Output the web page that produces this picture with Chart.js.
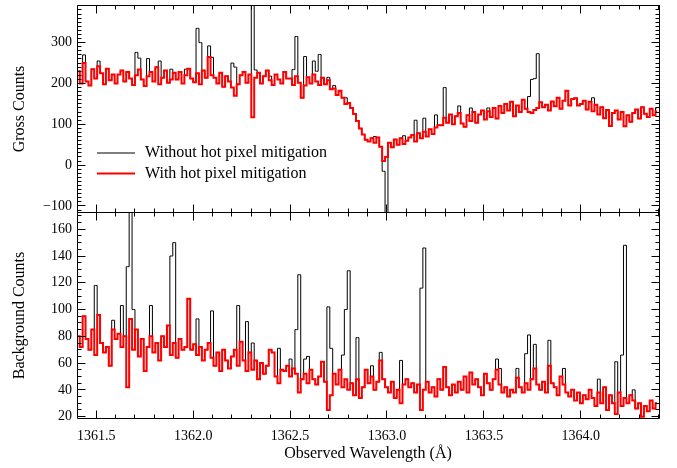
<!DOCTYPE html>
<html>
<head>
<meta charset="utf-8">
<script src="https://cdn.jsdelivr.net/npm/chart.js@4.4.1/dist/chart.umd.min.js"></script>
<style>
  html, body { margin: 0; padding: 0; background: #fff; }
  #wrap { position: relative; width: 677px; height: 468px; }
  #wrap .panel { position: absolute; left: 0; width: 677px; }
</style>
</head>
<body>
<div id="wrap">
  <div class="panel" style="top:205px;height:263px"><canvas id="bgChart"></canvas></div>
  <div class="panel" style="top:0;height:220px"><canvas id="grossChart"></canvas></div>
</div>
<script>
// wavelength grid (bin centres, Angstrom)
const wlStart = 1361.4075;
const wlStep = 0.015;
const nBins = 200;

// tick labels
const xTicks = [1361.5, 1362.0, 1362.5, 1363.0, 1363.5, 1364.0];
const grossTicks = [-100, 0, 100, 200, 300];
const bgTicks = [20, 40, 60, 80, 100, 120, 140, 160];

// gross counts, with hot pixel mitigation (red)
const grossClean = [
  230, 200, 250, 205, 195, 235, 212, 242, 225, 198, 236, 208, 222, 200,
  222, 232, 205, 228, 212, 196, 220, 234, 210, 194, 218, 228, 205, 240, 198, 214, 232, 202, 210, 226,
  210, 228, 200, 220, 236, 212, 203, 225, 198, 232, 214, 265, 220,
  214, 200, 226, 192, 218, 205, 190, 170, 198, 220, 228, 202, 222,
  117,
  214, 226, 200, 218, 232, 208, 196, 222, 210, 200, 228, 212,
  212, 196, 218, 202, 165, 195, 215, 200, 222, 205, 196, 214,
  198, 208, 186, 188, 172, 182, 165, 150,
  152, 140, 125, 108, 90, 75, 62, 58, 66, 55, 68, 45, 10, 20,
  55, 44, 63, 50, 66, 52, 60, 68, 74, 58, 78, 66, 82, 70, 88, 76, 92, 98,
  98, 116, 104, 124, 100, 120, 128,
  102, 94, 122, 108, 130, 104, 124, 134, 112, 132, 118, 140, 114, 145,
  128, 150, 134, 155, 120, 146, 130, 160, 138, 130, 128, 135, 140, 154, 142,
  148, 134, 156, 144, 165, 138, 158, 182, 146, 162,
  164, 146, 150, 158, 136, 155, 132, 148, 124, 142,
  115, 135, 96, 128, 134, 112, 130, 95, 122, 106,
  128, 136, 114, 142, 126, 118, 138, 122, 132
];
// bins where the unmitigated gross spectrum differs: [bin, counts]
const grossHot = [
  [2, 270], [7, 255], [20, 276], [21, 262], [24, 261], [28, 255], [32, 235], [37, 235],
  [41, 335], [42, 300], [45, 292], [46, 264], [53, 250], [54, 240], [60, 395], [61, 233],
  [66, 218], [74, 234], [75, 315], [78, 266], [81, 255], [82, 230], [83, 271], [86, 215],
  [88, 195], [92, 165], [102, 70], [105, -15], [106, -130], [112, 72], [116, 110], [119, 115],
  [123, 123], [126, 190], [131, 145], [135, 140], [141, 140], [155, 168], [156, 210], [157, 212],
  [158, 273], [177, 165], [199, 140]
];

// background counts, with hot pixel mitigation (red)
const bgClean = [
  80, 72, 95, 78, 70, 85, 66,
  96, 75, 68, 72, 58,
  85, 78, 82, 72, 80,
  42, 93, 70,
  85, 65, 78, 54, 72, 80,
  68, 75, 62, 80, 72, 88, 66,
  75, 64, 78, 70, 72, 108, 70,
  74, 66, 72, 62, 70, 75, 64,
  58, 68, 54, 70, 62, 56,
  65, 70, 58, 76, 62, 54, 68,
  55, 62, 48, 60, 52, 58,
  70, 68, 50, 45, 55,
  54, 58, 50, 56, 52, 38, 48,
  52, 45, 55, 48, 44, 50, 61,
  46, 25, 36,
  52, 44, 55, 42, 48, 40,
  45, 36, 48, 34, 42,
  55, 45, 50, 40, 46, 62, 48,
  42, 38, 46, 34, 40, 30, 44,
  48, 42, 45, 38, 44,
  25, 40,
  46, 38, 42, 35, 48, 40, 57,
  42, 36, 44, 38, 46,
  40, 50, 38, 53, 44, 48,
  42, 36, 52, 45, 40,
  48, 55, 44, 38,
  42, 35, 40, 38, 49, 42,
  38, 45, 40, 48, 56, 44,
  40, 46, 38, 58, 45,
  42, 36, 50, 44, 38,
  35, 40, 32, 38, 30, 36, 33, 40,
  34, 28, 38, 30, 42, 25, 36,
  30, 22, 38, 28, 34, 30, 36,
  32, 26, 30, 20, 28, 24, 32, 26, 30
];
const bgHot = [
  [6, 118], [12, 92], [15, 103], [17, 132], [18, 185], [19, 100], [25, 103], [32, 140],
  [33, 150], [41, 93], [46, 99], [55, 103], [58, 91], [60, 75], [69, 71], [73, 63],
  [75, 85], [76, 126], [78, 63], [79, 65], [86, 102], [87, 71], [91, 66], [92, 100],
  [93, 129], [96, 79], [101, 58], [104, 68], [111, 62], [118, 116], [119, 146], [144, 63],
  [145, 56], [151, 56], [154, 67], [155, 81], [157, 74], [162, 77], [167, 56], [179, 48],
  [185, 61], [187, 66], [188, 148], [191, 40]
];

const xMin = 1361.401, xMax = 1364.403;

const wavelength = [];
for (let i = 0; i < nBins; i++) wavelength.push(wlStart + i * wlStep);

function withHot(clean, hot) {
  const out = clean.slice();
  hot.forEach(([i, v]) => { out[i] = v; });
  return out;
}
const pts = arr => arr.map((v, i) => ({ x: wavelength[i], y: v }));

Chart.defaults.font.family = '"Liberation Serif", "Times New Roman", serif';
Chart.defaults.color = '#000';

const snap = v => Math.floor(v) + 0.5;

// box frame with inward tick marks on all four sides
const frameTicks = {
  id: 'frameTicks',
  afterDatasetsDraw(chart, args, o) {
    const { ctx, chartArea: a, scales: { x, y } } = chart;
    const L = snap(a.left), R = snap(a.right), T = snap(a.top), B = snap(a.bottom);
    ctx.save();
    ctx.strokeStyle = '#000';
    ctx.lineWidth = 1;
    ctx.beginPath();
    for (let k = Math.ceil(x.min / o.xStep); k * o.xStep <= x.max; k++) {
      const px = snap(x.getPixelForValue(k * o.xStep));
      const len = k % o.xEvery === 0 ? 8 : 4;
      ctx.moveTo(px, T); ctx.lineTo(px, T + len);
      ctx.moveTo(px, B); ctx.lineTo(px, B - len);
    }
    for (let k = Math.ceil(y.min / o.yStep); k * o.yStep <= y.max; k++) {
      const py = snap(y.getPixelForValue(k * o.yStep));
      const len = k % o.yEvery === 0 ? 8 : 4;
      ctx.moveTo(L, py); ctx.lineTo(L + len, py);
      ctx.moveTo(R, py); ctx.lineTo(R - len, py);
    }
    ctx.rect(L, T, R - L, B - T);
    ctx.stroke();
    ctx.restore();
  }
};

// legend drawn inside the plot area
const insideLegend = {
  id: 'insideLegend',
  afterDraw(chart, args, o) {
    if (!o.show) return;
    const { ctx, chartArea: a } = chart;
    ctx.save();
    ctx.font = o.size + 'px "Liberation Serif"';
    ctx.textBaseline = 'middle';
    ctx.fillStyle = '#000';
    chart.data.datasets.forEach((ds, k) => {
      const yy = a.top + o.top + k * o.gap;
      ctx.strokeStyle = ds.borderColor;
      ctx.lineWidth = ds.borderWidth;
      ctx.beginPath();
      ctx.moveTo(a.left + o.x0, yy);
      ctx.lineTo(a.left + o.x1, yy);
      ctx.stroke();
      ctx.fillText(ds.label, a.left + o.tx, yy);
    });
    ctx.restore();
  }
};

const fixY = w => s => { s.width = w; s.paddingTop = 0; s.paddingBottom = 0; };
const setTicks = vals => s => { s.ticks = vals.map(v => ({ value: v })); };
const minus = v => (v < 0 ? '\u2212' + (-v) : String(v));

function makeDatasets(clean, hot) {
  return [
    { label: 'Without hot pixel mitigation', data: pts(withHot(clean, hot)),
      borderColor: '#000000', borderWidth: 1, stepped: 'middle', pointRadius: 0, order: 2 },
    { label: 'With hot pixel mitigation', data: pts(clean),
      borderColor: '#ff0000', borderWidth: 2, stepped: 'middle', pointRadius: 0, order: 1 }
  ];
}

new Chart(document.getElementById('grossChart'), {
  type: 'line',
  data: { datasets: makeDatasets(grossClean, grossHot) },
  options: {
    animation: false,
    responsive: true,
    maintainAspectRatio: false,
    layout: { padding: { top: 5.5, bottom: 7.5, left: 0, right: 18 } },
    plugins: {
      legend: { display: false },
      tooltip: { enabled: false },
      frameTicks: { xStep: 0.1, xEvery: 5, yStep: 10, yEvery: 10 },
      insideLegend: { show: true, size: 16, top: 147.5, gap: 20.5, x0: 20, x1: 58, tx: 68 }
    },
    scales: {
      x: { type: 'linear', min: xMin, max: xMax, display: false },
      y: {
        min: -116, max: 391,
        afterBuildTicks: setTicks(grossTicks),
        afterFit: fixY(77),
        grid: { display: false, drawTicks: false },
        border: { display: false },
        ticks: { padding: 5, font: { size: 14 }, callback: minus },
        title: { display: true, text: 'Gross Counts', font: { size: 16 }, padding: { top: 10, bottom: 0 } }
      }
    }
  },
  plugins: [frameTicks, insideLegend]
});

new Chart(document.getElementById('bgChart'), {
  type: 'line',
  data: { datasets: makeDatasets(bgClean, bgHot) },
  options: {
    animation: false,
    responsive: true,
    maintainAspectRatio: false,
    layout: { padding: { top: 7.5, bottom: 0, left: 0, right: 18 } },
    plugins: {
      legend: { display: false },
      tooltip: { enabled: false },
      frameTicks: { xStep: 0.1, xEvery: 5, yStep: 5, yEvery: 4 },
      insideLegend: { show: false }
    },
    scales: {
      x: {
        type: 'linear', min: xMin, max: xMax,
        afterBuildTicks: setTicks(xTicks),
        afterFit: s => { s.height = 49.5; },
        grid: { display: false, drawTicks: false },
        border: { display: false },
        ticks: { maxRotation: 0, autoSkip: false, padding: 9, font: { size: 14 },
                 callback: v => Number(v).toFixed(1) },
        title: { display: true, text: 'Observed Wavelength (Å)', font: { size: 16 }, padding: { top: 0, bottom: 5 } }
      },
      y: {
        min: 18.6, max: 172.5,
        afterBuildTicks: setTicks(bgTicks),
        afterFit: fixY(77),
        grid: { display: false, drawTicks: false },
        border: { display: false },
        ticks: { padding: 5, font: { size: 14 } },
        title: { display: true, text: 'Background Counts', font: { size: 16 }, padding: { top: 10, bottom: 0 } }
      }
    }
  },
  plugins: [frameTicks, insideLegend]
});
</script>
</body>
</html>
